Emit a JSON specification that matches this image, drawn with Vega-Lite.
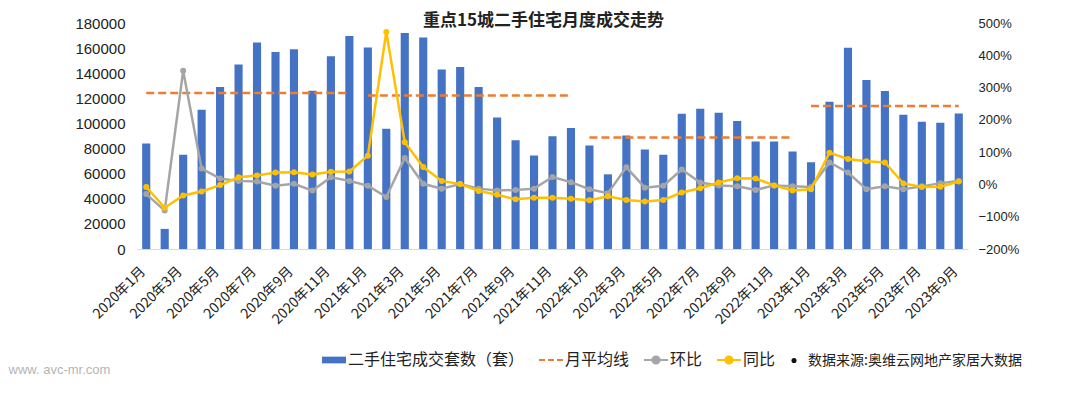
{
  "$schema": "https://vega.github.io/schema/vega-lite/v6.json",
  "width": 831,
  "height": 226,
  "autosize": {"type": "none"},
  "padding": {"left": 137, "top": 23, "right": 112, "bottom": 145},
  "background": "white",
  "config": {
    "view": {"stroke": null},
    "font": "'Liberation Sans', 'Noto Sans CJK SC', sans-serif",
    "axis": {"labelFont": "'Liberation Sans', 'Noto Sans CJK SC', sans-serif", "labelColor": "#222222"}
  },
  "title": {
    "text": "重点15城二手住宅月度成交走势",
    "font": "'Noto Sans CJK SC', sans-serif",
    "fontSize": 17,
    "fontWeight": "bold",
    "color": "#222222",
    "anchor": "middle",
    "dx": -9,
    "dy": 9,
    "offset": -5
  },
  "data": {
    "values": [
      {"month": "2020年1月", "year": "2020", "value": 84000, "hb": -0.30, "tb": -0.08, "avg": 124300},
      {"month": "2020年2月", "year": "2020", "value": 16000, "hb": -0.81, "tb": -0.72, "avg": 124300},
      {"month": "2020年3月", "year": "2020", "value": 75000, "hb": 3.52, "tb": -0.34, "avg": 124300},
      {"month": "2020年4月", "year": "2020", "value": 111000, "hb": 0.49, "tb": -0.22, "avg": 124300},
      {"month": "2020年5月", "year": "2020", "value": 129000, "hb": 0.18, "tb": -0.02, "avg": 124300},
      {"month": "2020年6月", "year": "2020", "value": 147000, "hb": 0.11, "tb": 0.22, "avg": 124300},
      {"month": "2020年7月", "year": "2020", "value": 164500, "hb": 0.09, "tb": 0.28, "avg": 124300},
      {"month": "2020年8月", "year": "2020", "value": 157000, "hb": -0.04, "tb": 0.37, "avg": 124300},
      {"month": "2020年9月", "year": "2020", "value": 159000, "hb": 0.02, "tb": 0.38, "avg": 124300},
      {"month": "2020年10月", "year": "2020", "value": 126000, "hb": -0.19, "tb": 0.31, "avg": 124300},
      {"month": "2020年11月", "year": "2020", "value": 153600, "hb": 0.22, "tb": 0.39, "avg": 124300},
      {"month": "2020年12月", "year": "2020", "value": 169600, "hb": 0.11, "tb": 0.40, "avg": 124300},
      {"month": "2021年1月", "year": "2021", "value": 160500, "hb": -0.04, "tb": 0.89, "avg": 122200},
      {"month": "2021年2月", "year": "2021", "value": 95700, "hb": -0.39, "tb": 4.72, "avg": 122200},
      {"month": "2021年3月", "year": "2021", "value": 172000, "hb": 0.82, "tb": 1.31, "avg": 122200},
      {"month": "2021年4月", "year": "2021", "value": 168500, "hb": 0.02, "tb": 0.54, "avg": 122200},
      {"month": "2021年5月", "year": "2021", "value": 143000, "hb": -0.13, "tb": 0.11, "avg": 122200},
      {"month": "2021年6月", "year": "2021", "value": 145000, "hb": 0.01, "tb": 0.01, "avg": 122200},
      {"month": "2021年7月", "year": "2021", "value": 129000, "hb": -0.13, "tb": -0.20, "avg": 122200},
      {"month": "2021年8月", "year": "2021", "value": 104800, "hb": -0.19, "tb": -0.32, "avg": 122200},
      {"month": "2021年9月", "year": "2021", "value": 86700, "hb": -0.17, "tb": -0.46, "avg": 122200},
      {"month": "2021年10月", "year": "2021", "value": 74400, "hb": -0.13, "tb": -0.41, "avg": 122200},
      {"month": "2021年11月", "year": "2021", "value": 89900, "hb": 0.23, "tb": -0.41, "avg": 122200},
      {"month": "2021年12月", "year": "2021", "value": 96300, "hb": 0.07, "tb": -0.44, "avg": 122200},
      {"month": "2022年1月", "year": "2022", "value": 82400, "hb": -0.15, "tb": -0.49, "avg": 88800},
      {"month": "2022年2月", "year": "2022", "value": 59500, "hb": -0.27, "tb": -0.37, "avg": 88800},
      {"month": "2022年3月", "year": "2022", "value": 90400, "hb": 0.53, "tb": -0.48, "avg": 88800},
      {"month": "2022年4月", "year": "2022", "value": 79200, "hb": -0.10, "tb": -0.53, "avg": 88800},
      {"month": "2022年5月", "year": "2022", "value": 75000, "hb": -0.04, "tb": -0.48, "avg": 88800},
      {"month": "2022年6月", "year": "2022", "value": 107700, "hb": 0.46, "tb": -0.25, "avg": 88800},
      {"month": "2022年7月", "year": "2022", "value": 111700, "hb": 0.06, "tb": -0.12, "avg": 88800},
      {"month": "2022年8月", "year": "2022", "value": 108500, "hb": -0.03, "tb": 0.06, "avg": 88800},
      {"month": "2022年9月", "year": "2022", "value": 101900, "hb": -0.06, "tb": 0.19, "avg": 88800},
      {"month": "2022年10月", "year": "2022", "value": 85600, "hb": -0.17, "tb": 0.18, "avg": 88800},
      {"month": "2022年11月", "year": "2022", "value": 85600, "hb": -0.03, "tb": -0.03, "avg": 88800},
      {"month": "2022年12月", "year": "2022", "value": 77600, "hb": -0.06, "tb": -0.19, "avg": 88800},
      {"month": "2023年1月", "year": "2023", "value": 69000, "hb": -0.08, "tb": -0.15, "avg": 113800},
      {"month": "2023年2月", "year": "2023", "value": 117300, "hb": 0.68, "tb": 0.98, "avg": 113800},
      {"month": "2023年3月", "year": "2023", "value": 160300, "hb": 0.37, "tb": 0.79, "avg": 113800},
      {"month": "2023年4月", "year": "2023", "value": 134700, "hb": -0.15, "tb": 0.72, "avg": 113800},
      {"month": "2023年5月", "year": "2023", "value": 125900, "hb": -0.06, "tb": 0.68, "avg": 113800},
      {"month": "2023年6月", "year": "2023", "value": 107000, "hb": -0.15, "tb": 0.03, "avg": 113800},
      {"month": "2023年7月", "year": "2023", "value": 101300, "hb": -0.06, "tb": -0.08, "avg": 113800},
      {"month": "2023年8月", "year": "2023", "value": 100500, "hb": 0.04, "tb": -0.07, "avg": 113800},
      {"month": "2023年9月", "year": "2023", "value": 108000, "hb": 0.11, "tb": 0.09, "avg": 113800}
    ]
  },
  "encoding": {
    "x": {
      "field": "month",
      "type": "nominal",
      "sort": null,
      "scale": {"paddingInner": 0.56, "paddingOuter": 0.28},
      "axis": {
        "values": ["2020年1月","2020年3月","2020年5月","2020年7月","2020年9月","2020年11月","2021年1月","2021年3月","2021年5月","2021年7月","2021年9月","2021年11月","2022年1月","2022年3月","2022年5月","2022年7月","2022年9月","2022年11月","2023年1月","2023年3月","2023年5月","2023年7月","2023年9月"],
        "labelAngle": -45,
        "labelAlign": "right",
        "labelBaseline": "middle",
        "labelPadding": 20,
        "labelOffset": -3,
        "labelFontSize": 14,
        "labelColor": "#222222",
        "labelFont": "'Noto Sans CJK SC', sans-serif",
        "labelOverlap": false,
        "ticks": false,
        "grid": false,
        "domain": true,
        "domainColor": "#d9d9d9",
        "domainWidth": 1,
        "title": "www. avc-mr.com",
        "titleX": -129,
        "titleY": 124,
        "titleAlign": "left",
        "titleAnchor": "start",
        "titleBaseline": "alphabetic",
        "titleFontSize": 13,
        "titleFontWeight": "normal",
        "titleColor": "#b5b5b5",
        "titleFont": "'Liberation Sans', sans-serif"
      }
    }
  },
  "layer": [
    {
      "layer": [
        {
          "mark": {"type": "bar"},
          "encoding": {
            "y": {
              "field": "value",
              "type": "quantitative",
              "scale": {"domain": [0, 180000], "nice": false},
              "axis": {
                "orient": "left",
                "values": [0,20000,40000,60000,80000,100000,120000,140000,160000,180000],
                "tickCount": 10,
                "format": "d",
                "labelFontSize": 15,
                "labelPadding": 12,
                "labelOverlap": false,
                "labelColor": "#222222",
                "domain": false,
                "ticks": false,
                "grid": false,
                "title": null
              }
            },
            "color": {
              "datum": "二手住宅成交套数（套）",
              "scale": {
                "domain": ["二手住宅成交套数（套）", "月平均线", "环比", "同比", "数据来源:奥维云网地产家居大数据"],
                "range": ["#4472C4", "#ED7D31", "#A5A5A5", "#FFC000", "#111111"]
              },
              "legend": {
                "title": null,
                "orient": "none",
                "direction": "horizontal",
                "legendX": 189,
                "legendY": 329,
                "symbolSize": 576,
                "labelOffset": 6,
                "columnPadding": 10,
                "labelLimit": 400,
                "labelFontSize": 16,
                "labelColor": "#222222",
                "labelFont": "'Noto Sans CJK SC', sans-serif",
                "encode": {
                  "symbols": {
                    "update": {
                      "shape": {"signal": "datum.value==='二手住宅成交套数（套）'?'M-1,-0.28H1V0.28H-1Z':datum.value==='月平均线'?'M-1,0H-0.5M-0.25,0H0.25M0.5,0H1':datum.value==='数据来源:奥维云网地产家居大数据'?'M0.13,0A0.13,0.13,0,1,1,-0.13,0A0.13,0.13,0,1,1,0.13,0':'M-1,0H1M0.3,0A0.3,0.3,0,1,1,-0.3,0A0.3,0.3,0,1,1,0.3,0'"},
                      "fill": {"signal": "datum.value==='二手住宅成交套数（套）'?'#4472C4':datum.value==='月平均线'?'transparent':datum.value==='环比'?'#A5A5A5':datum.value==='同比'?'#FFC000':'#111111'"},
                      "stroke": {"signal": "datum.value==='二手住宅成交套数（套）'?'#4472C4':datum.value==='月平均线'?'#ED7D31':datum.value==='环比'?'#A5A5A5':datum.value==='同比'?'#FFC000':'#111111'"},
                      "strokeWidth": {"signal": "datum.value==='二手住宅成交套数（套）'?0:2"},
                      "strokeDash": {"value": []},
                      "opacity": {"value": 1},
                      "fillOpacity": {"value": 1}
                    }
                  },
                  "labels": {
                    "update": {
                      "fontSize": {"signal": "datum.value==='数据来源:奥维云网地产家居大数据'?14:16"}
                    }
                  }
                }
              }
            }
          }
        },
        {
          "mark": {"type": "line", "strokeDash": [8, 4], "strokeWidth": 2.5},
          "encoding": {
            "y": {
              "field": "avg",
              "type": "quantitative",
              "axis": {
                "orient": "left",
                "values": [0,20000,40000,60000,80000,100000,120000,140000,160000,180000],
                "tickCount": 10,
                "format": "d",
                "labelFontSize": 15,
                "labelPadding": 12,
                "labelOverlap": false,
                "labelColor": "#222222",
                "domain": false,
                "ticks": false,
                "grid": false,
                "title": null
              }
            },
            "detail": {"field": "year"},
            "color": {"datum": "月平均线"}
          }
        }
      ]
    },
    {
      "layer": [
        {
          "mark": {"type": "line", "strokeWidth": 2.5, "point": {"filled": true, "size": 36}},
          "encoding": {
            "y": {
              "field": "hb",
              "type": "quantitative",
              "scale": {"domain": [-2, 5], "nice": false},
              "axis": {
                "orient": "right",
                "values": [-2,-1,0,1,2,3,4,5],
                "tickCount": 8,
                "format": ".0%",
                "labelFontSize": 13,
                "labelPadding": 10,
                "labelOverlap": false,
                "labelColor": "#222222",
                "domain": false,
                "ticks": false,
                "grid": false,
                "title": null
              }
            },
            "color": {"datum": "环比"}
          }
        },
        {
          "mark": {"type": "line", "strokeWidth": 2.5, "point": {"filled": true, "size": 36}},
          "encoding": {
            "y": {
              "field": "tb",
              "type": "quantitative",
              "axis": {
                "orient": "right",
                "values": [-2,-1,0,1,2,3,4,5],
                "tickCount": 8,
                "format": ".0%",
                "labelFontSize": 13,
                "labelPadding": 10,
                "labelOverlap": false,
                "labelColor": "#222222",
                "domain": false,
                "ticks": false,
                "grid": false,
                "title": null
              }
            },
            "color": {"datum": "同比"}
          }
        }
      ]
    }
  ],
  "resolve": {"scale": {"y": "independent"}}
}
